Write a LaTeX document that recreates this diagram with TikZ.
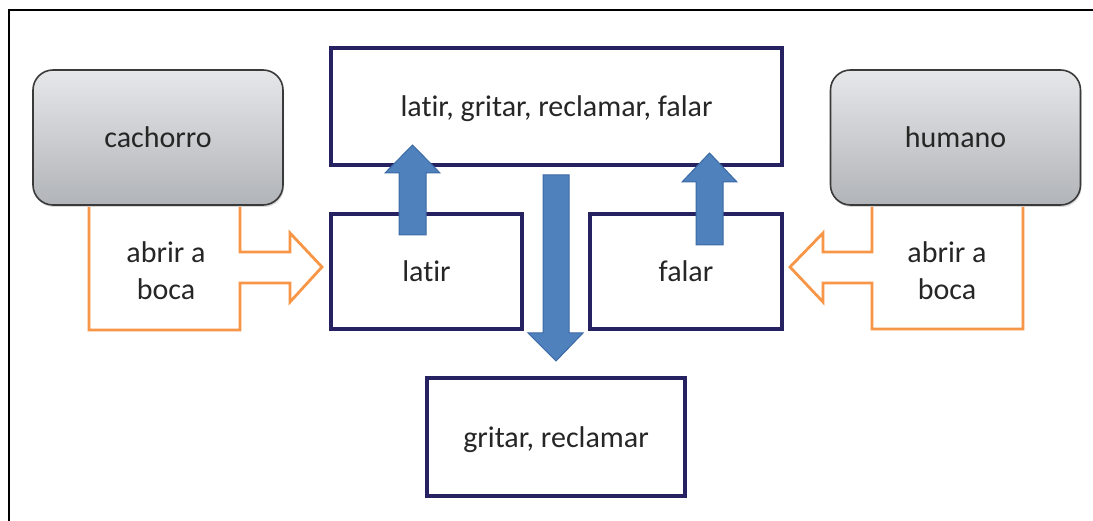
\documentclass[tikz,border=0pt]{standalone}
\usepackage{fontspec}
\setmainfont[Ligatures=NoCommon]{Carlito}
\usetikzlibrary{shadows}
\definecolor{navy}{HTML}{262262}
\definecolor{arrowblue}{HTML}{4F81BD}
\definecolor{arrowedge}{HTML}{3C6AA6}
\definecolor{orangeline}{HTML}{F79646}
\definecolor{grayedge}{HTML}{3A3A3A}
\definecolor{graytop}{HTML}{E6E7E9}
\definecolor{graybot}{HTML}{B1B4B8}
\definecolor{txt}{HTML}{262626}
\begin{document}
\begin{tikzpicture}[x=1pt,y=-1pt,
 every node/.style={font=\fontsize{30}{37}\selectfont, text=txt},
 boxtext/.style={text height=25pt, text depth=4pt},
 actor/.style={boxtext, draw=grayedge, line width=1.6pt, rounded corners=20pt, top color=graytop, bottom color=graybot, minimum width=250pt, minimum height=135pt, inner sep=0pt, drop shadow={shadow xshift=1pt, shadow yshift=-2pt, opacity=0.3}},
 act/.style={boxtext, draw=navy, line width=3.2pt, fill=white, inner sep=0pt},
 blockarrow/.style={fill=arrowblue, draw=arrowedge, line width=1pt, line join=miter},
 openarrow/.style={draw=orangeline, line width=2.8pt, line join=miter},
 lab/.style={align=center, inner sep=0pt}
]
\useasboundingbox (0,0) rectangle (1093,521);
\fill[white] (0,0) rectangle (1093,521);
\draw[line width=1.5pt] (9,521) -- (9,10) -- (1093,10);

% orange open arrows
\draw[openarrow] (89,207) -- (89,330) -- (240,330) -- (240,283) -- (290,283) -- (290,302) -- (322,267) -- (290,233) -- (290,252) -- (240,252) -- (240,207);
\draw[openarrow] (1023,207) -- (1023,329) -- (872,329) -- (872,283) -- (823,283) -- (823,302) -- (790,267) -- (823,233) -- (823,252) -- (872,252) -- (872,207);

\node[actor] (cach) at (158,137.5) {cachorro};
\node[actor] (hum) at (955.5,137.5) {humano};
\node[lab] (lab1) at (166,271) {abrir a\\boca};
\node[lab] (lab2) at (947,271) {abrir a\\boca};

\node[act, minimum width=451pt, minimum height=117pt] (all) at (556.5,106.5) {latir, gritar, reclamar, falar};
\node[act, minimum width=191pt, minimum height=115pt] (latir) at (426.5,271.5) {latir};
\node[act, minimum width=192pt, minimum height=115pt] (falar) at (686,271.5) {falar};
\node[act, minimum width=258pt, minimum height=118pt] (grit) at (556,437) {gritar, reclamar};

% blue block arrows
\draw[blockarrow] (399,235) -- (399,173) -- (385,173) -- (412.5,145) -- (440,173) -- (426,173) -- (426,235) -- cycle;
\draw[blockarrow] (696,245) -- (696,182) -- (682,182) -- (709.5,153) -- (737,182) -- (723,182) -- (723,245) -- cycle;
\draw[blockarrow] (543,175) -- (543,333) -- (528,333) -- (556,361) -- (583,333) -- (569,333) -- (569,175) -- cycle;
\end{tikzpicture}
\end{document}
